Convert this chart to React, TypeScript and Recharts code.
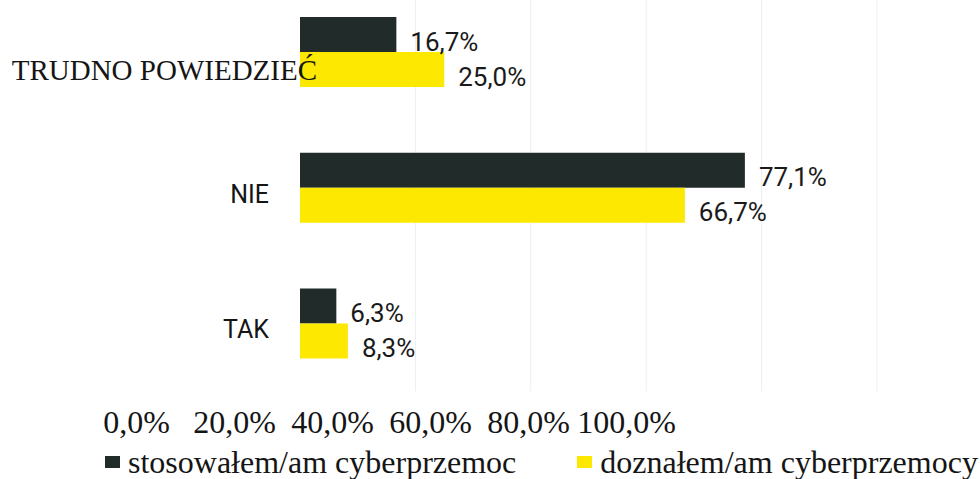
import React from 'react';
import {BarChart, Bar, XAxis, YAxis, Legend, CartesianGrid} from 'recharts';

const categories = ['TRUDNO POWIEDZIEĆ', 'NIE', 'TAK'];
const stosowalem = [16.7, 77.1, 6.3];
const doznalem = [25.0, 66.7, 8.3];
const tickValues = [0, 20, 40, 60, 80, 100];
const gridValues = [20, 40, 60, 80, 100];
const seriesNames = ['stosowałem/am cyberprzemoc', 'doznałem/am cyberprzemocy'];

const rows = categories.map((name, i) => ({
  name,
  stosowalem: stosowalem[i],
  doznalem: doznalem[i],
}));

const SERIF = '"Liberation Serif", "Times New Roman", serif';
const SANS = 'Roboto, "Liberation Sans", sans-serif';
const DARK = '#212b2a';
const YELLOW = '#fce800';

const fmt = (v: number) => v.toFixed(1).replace('.', ',') + '%';

const CategoryTick = (props: any) => {
  const {y, payload} = props;
  if (payload.value === categories[0]) {
    return (
      <text x={317} y={y + 28} textAnchor="end" fontFamily={SERIF} fontSize={29} fill="#151515">
        {payload.value}
      </text>
    );
  }
  return (
    <text x={269} y={y + 15} textAnchor="end" fontFamily={SANS} fontSize={25} fill="#151515">
      {payload.value}
    </text>
  );
};

const PercentTick = (props: any) => {
  const {x, y, payload} = props;
  return (
    <text x={x} y={y + 12} textAnchor="middle" fontFamily={SERIF} fontSize={32} fill="#151515">
      {fmt(payload.value)}
    </text>
  );
};

const valueLabel = (props: any) => {
  const {x, y, width, height, value} = props;
  return (
    <text x={x + width + 14} y={y + height / 2 + 16} fontFamily={SANS} fontSize={26} fill="#1a1a1a">
      {fmt(value)}
    </text>
  );
};

const LegendContent = (props: any) => {
  const {payload} = props;
  const ordered = seriesNames
    .map((n) => (payload || []).find((p: any) => p.value === n))
    .filter(Boolean);
  return (
    <div style={{display: 'flex', alignItems: 'center', width: 980}}>
      {ordered.map((entry: any, i: number) => (
        <div key={entry.value} style={{display: 'flex', alignItems: 'center', marginLeft: i === 0 ? 105 : 61}}>
          <span style={{display: 'inline-block', width: 15, height: 12, background: entry.color, marginRight: 8}} />
          <span style={{fontFamily: SERIF, fontSize: 32, lineHeight: '32px', color: '#151515'}}>{entry.value}</span>
        </div>
      ))}
    </div>
  );
};

export default function App() {
  return (
    <div style={{position: 'absolute', left: 0, top: -16, width: 980, height: 495}}>
      <BarChart
        width={980}
        height={495}
        layout="vertical"
        data={rows}
        margin={{top: 0, right: 20, bottom: 47.75, left: 0}}
        barGap={0}
      >
        <CartesianGrid
          xAxisId="bars"
          horizontal={false}
          verticalValues={gridValues}
          stroke="#eeeeee"
        />
        <XAxis
          xAxisId="bars"
          type="number"
          hide
          domain={[-34.66, 114.38]}
          allowDataOverflow
          ticks={gridValues}
        />
        <XAxis
          xAxisId="labels"
          type="number"
          domain={[-7.45, 168.06]}
          allowDataOverflow
          ticks={tickValues}
          interval={0}
          axisLine={false}
          tickLine={false}
          tickSize={0}
          tickMargin={0}
          height={40}
          tick={<PercentTick />}
        />
        <YAxis
          type="category"
          dataKey="name"
          width={100}
          interval={0}
          axisLine={false}
          tickLine={false}
          tick={<CategoryTick />}
        />
        <Legend
          layout="horizontal"
          verticalAlign="middle"
          align="center"
          wrapperStyle={{top: 462, left: 0, width: 980}}
          content={<LegendContent />}
        />
        <Bar
          xAxisId="bars"
          dataKey="stosowalem"
          name={seriesNames[0]}
          fill={DARK}
          barSize={35}
          isAnimationActive={false}
          label={valueLabel}
        />
        <Bar
          xAxisId="bars"
          dataKey="doznalem"
          name={seriesNames[1]}
          fill={YELLOW}
          barSize={35}
          isAnimationActive={false}
          label={valueLabel}
        />
      </BarChart>
    </div>
  );
}
